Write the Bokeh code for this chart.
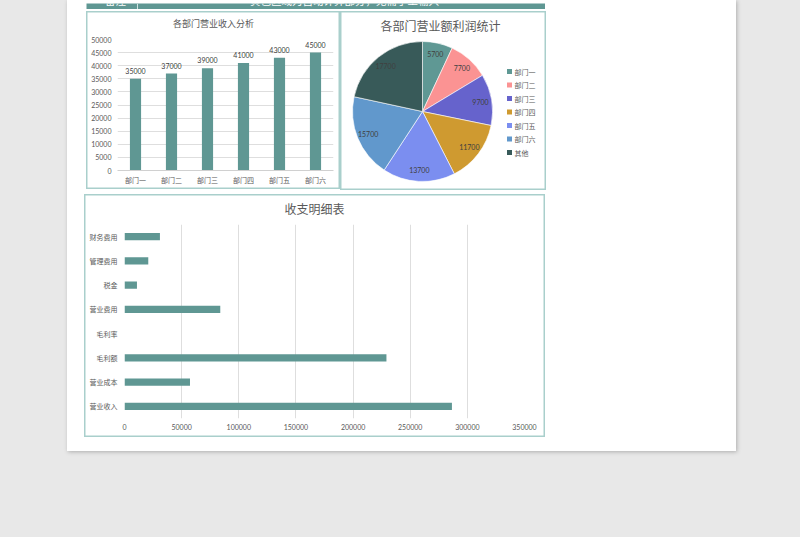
import numpy as np
from bokeh.plotting import figure
from bokeh.layouts import column, row
from bokeh.models import ColumnDataSource, FactorRange, Range1d, NumeralTickFormatter
from bokeh.core.properties import value
from bokeh.embed import file_html
from bokeh.resources import INLINE

# ---------------- data ----------------
depts = ["部门一", "部门二", "部门三", "部门四", "部门五", "部门六"]
dept_income = [35000, 37000, 39000, 41000, 43000, 45000]

pie_names = ["部门一", "部门二", "部门三", "部门四", "部门五", "部门六", "其他"]
pie_values = [5700, 7700, 9700, 11700, 13700, 15700, 17700]
pie_colors = ["#5f9894", "#fb9393", "#6663cc", "#cf9a30", "#7b8ef0", "#6198cc", "#385a59"]

items = ["营业收入", "营业成本", "毛利额", "毛利率", "营业费用", "税金", "管理费用", "财务费用"]
item_values = [286500, 57300, 229200, 0.8, 83800, 10900, 20800, 31000]

header_left = "备注"
header_text = "黄色区域为自动计算部分，无需手工输入"
bar_title = "各部门营业收入分析"
pie_title = "各部门营业额利润统计"
hb_title = "收支明细表"

TEAL = "#5f9793"
GRID = "#dedede"
LABEL = "#595959"
CJK = "Noto Sans CJK SC"
NUM = "Lato"
PANEL_STYLE = {"background-color": "white", "box-shadow": "inset 0 0 0 1.5px #a9cfcc"}


def base(width, height, **kw):
    return figure(width=width, height=height, toolbar_location=None, output_backend="svg",
                  border_fill_color=None, outline_line_color=None, **kw)


def title_fig(width, height, text, size, cx, cy):
    t = base(width, height, x_range=(0, width), y_range=(height, 0), min_border=0,
             x_axis_location=None, y_axis_location=None, background_fill_color=None)
    t.grid.visible = False
    t.text(x=[cx], y=[cy], text=[text], text_font=value(CJK), text_font_size=size,
           text_color=LABEL, text_align="center", text_baseline="middle")
    return t


def style_axes(p):
    for ax in p.axis:
        ax.major_tick_line_color = None
        ax.minor_tick_line_color = None
        ax.major_tick_out = 0
        ax.major_tick_in = 0
        ax.minor_tick_out = 0
        ax.minor_tick_in = 0
        ax.major_label_text_color = LABEL
        ax.major_label_text_font_size = "7px"


# ---------------- header bar ----------------
header = figure(width=459, height=9, x_range=(0, 459), y_range=(9, 0), toolbar_location=None,
                output_backend="svg", min_border=0, outline_line_color=None,
                x_axis_location=None, y_axis_location=None,
                background_fill_color=TEAL, border_fill_color=TEAL)
header.grid.visible = False
header.segment(x0=[51], y0=[0], x1=[51], y1=[9], line_color="#cfe3e1", line_width=1)
header.text(x=[29, 258], y=[4.5, 4.5], text=[header_left, header_text], text_color="white",
            text_font=value(CJK), text_font_size="10.5px", text_align="center",
            text_baseline="bottom")

# ---------------- column chart ----------------
bar_t = title_fig(254, 22, bar_title, "9px", 127, 12)
bar = base(254, 156, x_range=FactorRange(*depts, range_padding=0), y_range=Range1d(0, 50000),
           min_border_left=31, min_border_right=7, min_border_top=6, min_border_bottom=19)
src = ColumnDataSource(dict(x=depts, top=dept_income, lab=[str(v) for v in dept_income]))
bar.vbar(x="x", top="top", width=0.31, source=src, fill_color=TEAL, line_color=None)
bar.text(x="x", y="top", text="lab", source=src, text_font=value(NUM), text_font_size="7px",
         text_color="#404040", text_align="center", text_baseline="bottom", y_offset=-5)
bar.yaxis.ticker = list(range(0, 50001, 5000))
bar.yaxis.formatter = NumeralTickFormatter(format="0")
bar.ygrid.ticker = list(range(0, 50001, 5000))
bar.ygrid.grid_line_color = GRID
bar.xgrid.grid_line_color = None
style_axes(bar)
bar.yaxis.axis_line_color = None
bar.yaxis.major_label_text_font = NUM
bar.yaxis.major_label_standoff = 6
bar.xaxis.axis_line_color = "#d0d0d0"
bar.xaxis.major_label_text_font = CJK
bar.xaxis.major_label_standoff = 4

# ---------------- pie chart ----------------
R = 70.0
cx, cy = 422 - 340, 112 - 12  # centre inside the 206x179 panel (pixels)
pie = base(206, 179, x_range=Range1d(-cx / R, (206 - cx) / R), y_range=Range1d(-(179 - cy) / R, cy / R),
           min_border=0, x_axis_location=None, y_axis_location=None, styles=PANEL_STYLE,
           background_fill_color=None)
pie.grid.visible = False
vals = np.array(pie_values, dtype=float)
frac = vals / vals.sum()
ends = np.cumsum(frac)
starts = ends - frac
psrc = ColumnDataSource(dict(
    start=np.pi / 2 - starts * 2 * np.pi,
    end=np.pi / 2 - ends * 2 * np.pi,
    color=pie_colors,
    lx=0.84 * np.sin((starts + ends) * np.pi),
    ly=0.84 * np.cos((starts + ends) * np.pi),
    lab=[str(v) for v in pie_values],
))
pie.wedge(x=0, y=0, radius=1, start_angle="start", end_angle="end", direction="clock",
          fill_color="color", line_color="white", line_width=0.6, source=psrc)
pie.text(x="lx", y="ly", text="lab", source=psrc, text_font=value(NUM), text_font_size="7px",
         text_color="#404040", text_align="center", text_baseline="middle")
pie.text(x=[(440 - 422) / R], y=[(112 - 26) / R], text=[pie_title], text_font=value(CJK),
         text_font_size="12px", text_color=LABEL, text_align="center", text_baseline="middle")
ly = [(112 - (72 + 13.5 * i)) / R for i in range(len(pie_names))]
pie.scatter(x=[(509 - 422) / R] * len(pie_names), y=ly, marker="square", size=5,
            fill_color=pie_colors, line_color=None)
pie.text(x=[(514 - 422) / R] * len(pie_names), y=ly, text=pie_names, text_font=value(CJK),
         text_font_size="7px", text_color=LABEL, text_align="left", text_baseline="middle")

# ---------------- horizontal bar chart ----------------
hb_t = title_fig(461, 24, hb_title, "12px", 230, 14)
hb = base(461, 219, y_range=FactorRange(*items, range_padding=0), x_range=Range1d(0, 350000),
          min_border_left=40, min_border_right=21, min_border_top=6, min_border_bottom=19)
hsrc = ColumnDataSource(dict(y=items, right=item_values))
hb.hbar(y="y", right="right", left=0, height=0.3, source=hsrc, fill_color=TEAL, line_color=None)
hb.xaxis.ticker = list(range(0, 350001, 50000))
hb.xaxis.formatter = NumeralTickFormatter(format="0")
hb.xgrid.ticker = list(range(0, 350001, 50000))
hb.xgrid.grid_line_color = GRID
hb.ygrid.grid_line_color = None
style_axes(hb)
for ax in hb.axis:
    ax.axis_line_color = None
hb.xaxis.major_label_text_font = NUM
hb.xaxis.major_label_standoff = 5
hb.yaxis.major_label_text_font = CJK
hb.yaxis.major_label_standoff = 7

# ---------------- page layout (each figure wrapped so frames are not aligned) ----------------
header_box = row(header, margin=(0, 0, 0, 19))
bar_box = column(row(bar_t), row(bar), spacing=0, width=254, height=178, styles=PANEL_STYLE)
pie_box = column(pie)
top_row = row(bar_box, pie_box, spacing=0, margin=(2, 0, 0, 19))
hb_box = column(row(hb_t), row(hb), spacing=0, width=461, height=243, margin=(4, 0, 0, 17),
                styles=PANEL_STYLE)
page = column(header_box, top_row, hb_box, spacing=0, width=669, height=451, margin=(0, 0, 0, 67),
              styles={"background-color": "white", "box-shadow": "1px 1px 4px rgba(0,0,0,0.25)"})
root = column(page, width=800, height=537, spacing=0,
              styles={"background-color": "#e8e8e8"})

open("out.html", "w").write(file_html(root, INLINE))
